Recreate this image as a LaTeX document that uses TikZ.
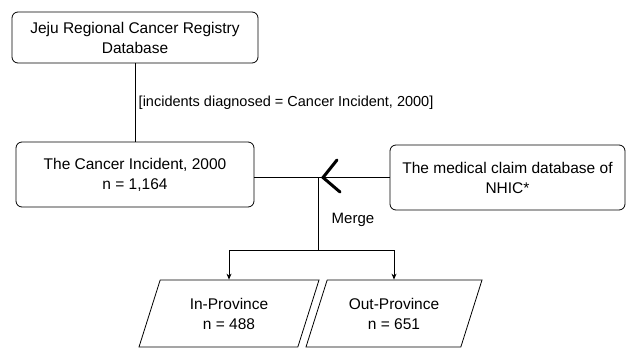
\documentclass[tikz,border=0pt]{standalone}
\usepackage{fontspec}
\setmainfont{Liberation Sans}
\usetikzlibrary{shapes.geometric,arrows.meta}
\tikzset{
	dbbox/.style={draw, rounded corners=6pt, align=center, inner sep=0pt, font=\fontsize{15.5}{20}\selectfont},
	provbox/.style={draw, trapezium, trapezium left angle=56, trapezium right angle=124, trapezium stretches body, minimum width=180pt, minimum height=67pt, align=center, inner sep=0pt, font=\fontsize{15.5}{20}\selectfont},
	arr/.style={-{Stealth[length=6pt,width=5pt]}},
}
\begin{document}
\begin{tikzpicture}[x=1pt, y=-1pt, line width=0.8pt]
	\useasboundingbox (0,0) rectangle (632,349);
	\node[dbbox, minimum width=246pt, minimum height=51pt] (registry) at (135,37.5) {Jeju Regional Cancer Registry\\Database};
	\node[dbbox, minimum width=238pt, minimum height=65pt] (cancer) at (135,174.5) {The Cancer Incident, 2000\\n = 1,164};
	\node[dbbox, minimum width=235pt, minimum height=65pt] (nhic) at (507.5,177.5) {The medical claim database of\\NHIC*};
	\node[provbox] (inprov) at (229,313.5) {In-Province\\n = 488};
	\node[provbox, minimum width=176pt] (outprov) at (394,313.5) {Out-Province\\n = 651};
	\coordinate (join) at (318,177.5);
	\coordinate (split) at (318,250);
	\draw (registry) -- (cancer) node[midway, right, font=\fontsize{14.5}{17}\selectfont]{[incidents diagnosed = Cancer Incident, 2000]};
	\draw (cancer.east |- nhic.west) -- (nhic.west);
	\draw[line width=3pt, line cap=round] (337,160) -- (323,177.5) -- (340,192);
	\draw (join) -- (split) node[pos=0.58, right=10pt, font=\fontsize{15}{18}\selectfont]{Merge};
	\draw[arr] (split) -| (inprov.north);
	\draw[arr] (split) -| (outprov.north);
\end{tikzpicture}
\end{document}
